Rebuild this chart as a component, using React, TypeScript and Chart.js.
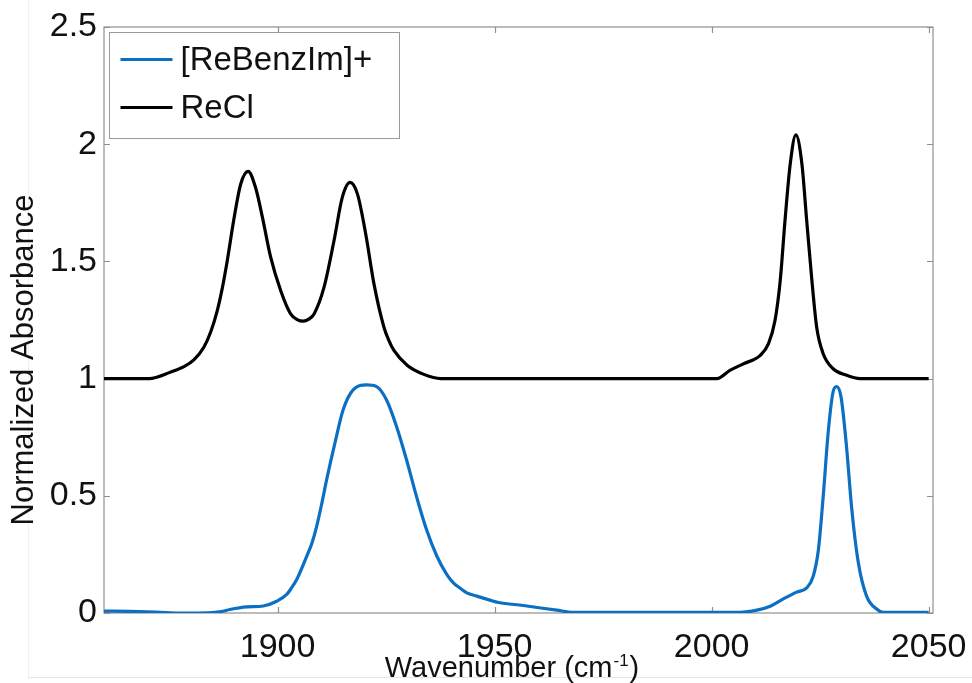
import React, { useEffect, useRef } from "react";
import { Chart, registerables } from "chart.js";

Chart.register(...registerables);

// ReCl spectrum (offset by +1)
const reclWavenumber = [
  1860, 1870.4, 1875.4, 1878.4, 1880.7, 1883, 1884.6, 1886.1, 1887.3, 1888.4, 1890,
  1891.5, 1893.2, 1894.9, 1896.5, 1898.4, 1900.7, 1903, 1904.5, 1905.9, 1907.2, 1908.4,
  1910.7, 1913, 1914.9, 1916.7, 1918.4, 1920.3, 1922.2, 1924.5, 1925.7, 1926.8, 1929.9,
  1933.7, 1937.6, 2001.2, 2004.2, 2007.3, 2011.2, 2013.1, 2014.6, 2015.8, 2016.9,
  2018.1, 2019.4, 2020.8, 2021.9, 2023.1, 2024.2, 2025.7, 2028, 2031.1, 2034.2, 2050,
];
const reclAbsorbance = [
  1.0, 1.0, 1.028, 1.051, 1.08, 1.134, 1.2, 1.29, 1.39, 1.503, 1.688,
  1.83, 1.884, 1.816, 1.688, 1.518, 1.376, 1.276, 1.252, 1.245, 1.254, 1.276,
  1.39, 1.589, 1.773, 1.837, 1.787, 1.617, 1.404, 1.219, 1.16, 1.12, 1.056,
  1.018, 1.0, 1.0, 1.035, 1.063, 1.099, 1.149, 1.248, 1.418, 1.674,
  1.915, 2.04, 1.915, 1.674, 1.418, 1.219, 1.106, 1.042, 1.014, 1.0, 1.0,
];

// [ReBenzIm]+ spectrum
const benzWavenumber = [
  1860, 1866, 1872, 1878, 1884, 1887, 1889, 1892.9, 1896.7, 1899.8, 1902.1, 1903.2,
  1904.4, 1906.7, 1907.9, 1909, 1910.2, 1911.3, 1913.2, 1915.1, 1917.4, 1920.5, 1922.8,
  1925.1, 1927.4, 1929.7, 1932, 1934.3, 1936.7, 1939, 1940.5, 1942, 1943.6, 1945.9,
  1948.9, 1950.9, 1956.6, 1964.3, 1968.1, 2006.5, 2010.4, 2013.5, 2016.5, 2019.6,
  2021.9, 2023.4, 2024.6, 2025.7, 2026.9, 2028, 2028.8, 2029.8, 2031, 2032.3, 2033.8,
  2035.7, 2038.4, 2039.5, 2050,
];
const benzAbsorbance = [
  0.008, 0.007, 0.004, 0.0, 0.001, 0.006, 0.015, 0.026, 0.03, 0.05, 0.079, 0.107,
  0.143, 0.242, 0.298, 0.37, 0.469, 0.569, 0.725, 0.867, 0.952, 0.973, 0.966,
  0.909, 0.796, 0.654, 0.497, 0.356, 0.242, 0.164, 0.129, 0.107, 0.086, 0.072,
  0.055, 0.045, 0.032, 0.012, 0.003, 0.003, 0.012, 0.029, 0.06, 0.089,
  0.107, 0.157, 0.27, 0.497, 0.78, 0.945, 0.966, 0.923, 0.725, 0.441, 0.214,
  0.072, 0.012, 0.003, 0.003,
];

const seriesLabels = ["[ReBenzIm]+", "ReCl"];
const seriesColors = ["#0b6fc3", "#000000"];

const xTicks = [1900, 1950, 2000, 2050];
const yTicks = [0, 0.5, 1, 1.5, 2, 2.5];

const xTitle = "Wavenumber (cm";
const xTitleSup = "-1";
const yTitle = "Normalized Absorbance";

const FONT = "'Liberation Sans', Helvetica, Arial, sans-serif";

const framePlugin = {
  id: "frameAndLegend",
  beforeDatasetsDraw(chart: any) {
    const { ctx, chartArea: a, scales } = chart;
    ctx.save();
    ctx.strokeStyle = "#8f8f8f";
    ctx.lineWidth = 1.2;
    ctx.strokeRect(a.left, a.top, a.right - a.left, a.bottom - a.top);
    const tl = 6;
    ctx.beginPath();
    for (const v of xTicks) {
      const x = Math.round(scales.x.getPixelForValue(v)) + 0.5;
      ctx.moveTo(x, a.bottom);
      ctx.lineTo(x, a.bottom - tl);
      ctx.moveTo(x, a.top);
      ctx.lineTo(x, a.top + tl);
    }
    for (const v of yTicks) {
      const y = Math.round(scales.y.getPixelForValue(v)) + 0.5;
      ctx.moveTo(a.left, y);
      ctx.lineTo(a.left + tl, y);
      ctx.moveTo(a.right, y);
      ctx.lineTo(a.right - tl, y);
    }
    ctx.stroke();
    ctx.restore();
  },
  afterDraw(chart: any) {
    const { ctx, chartArea: a } = chart;
    ctx.save();

    // legend box in the upper-left corner of the axes
    const bx = a.left + 5.5;
    const by = a.top + 5.5;
    const bw = 290;
    const bh = 106;
    ctx.fillStyle = "#ffffff";
    ctx.fillRect(bx, by, bw, bh);
    ctx.strokeStyle = "#9a9a9a";
    ctx.lineWidth = 1;
    ctx.strokeRect(bx, by, bw, bh);
    const rows = [by + 27, by + 75];
    chart.data.datasets.forEach((ds: any, i: number) => {
      ctx.strokeStyle = ds.borderColor;
      ctx.lineWidth = 3;
      ctx.beginPath();
      ctx.moveTo(bx + 11, rows[i]);
      ctx.lineTo(bx + 63, rows[i]);
      ctx.stroke();
      ctx.fillStyle = "#111111";
      ctx.font = `33px ${FONT}`;
      ctx.textBaseline = "middle";
      ctx.textAlign = "left";
      ctx.fillText(ds.label, bx + 71, rows[i] + 1);
    });

    // y axis title
    ctx.fillStyle = "#111111";
    ctx.save();
    ctx.translate(24, 360);
    ctx.rotate(-Math.PI / 2);
    ctx.font = `31px ${FONT}`;
    ctx.textAlign = "center";
    ctx.textBaseline = "middle";
    ctx.fillText(yTitle, 0, 0);
    ctx.restore();

    // x axis title with superscript
    const mainFont = `29px ${FONT}`;
    const supFont = `17px ${FONT}`;
    ctx.textBaseline = "alphabetic";
    ctx.textAlign = "left";
    ctx.font = mainFont;
    const w1 = ctx.measureText(xTitle).width;
    const w3 = ctx.measureText(")").width;
    ctx.font = supFont;
    const w2 = ctx.measureText(xTitleSup).width;
    const total = w1 + w2 + w3 + 2;
    let x = 512 - total / 2;
    const base = 677;
    ctx.font = mainFont;
    ctx.fillText(xTitle, x, base);
    x += w1 + 1;
    ctx.font = supFont;
    ctx.fillText(xTitleSup, x, base - 11);
    x += w2 + 1;
    ctx.font = mainFont;
    ctx.fillText(")", x, base);

    ctx.restore();
  },
};

export default function App() {
  const canvasRef = useRef<HTMLCanvasElement | null>(null);

  useEffect(() => {
    if (!canvasRef.current) return;
    const toPoints = (xs: number[], ys: number[]) =>
      xs.map((x, i) => ({ x, y: ys[i] }));

    const chart = new Chart(canvasRef.current, {
      type: "line",
      data: {
        datasets: [
          {
            label: seriesLabels[0],
            data: toPoints(benzWavenumber, benzAbsorbance),
            borderColor: seriesColors[0],
            borderWidth: 3.2,
            pointRadius: 0,
            cubicInterpolationMode: "monotone",
            fill: false,
          },
          {
            label: seriesLabels[1],
            data: toPoints(reclWavenumber, reclAbsorbance),
            borderColor: seriesColors[1],
            borderWidth: 3.2,
            pointRadius: 0,
            cubicInterpolationMode: "monotone",
            fill: false,
          },
        ],
      },
      options: {
        animation: false,
        responsive: true,
        maintainAspectRatio: false,
        layout: { padding: { left: 0, right: 39, top: 27, bottom: 0 } },
        plugins: {
          legend: { display: false },
          tooltip: { enabled: false },
        },
        scales: {
          x: {
            type: "linear",
            min: 1860,
            max: 2051,
            grid: { display: false, drawTicks: false },
            border: { display: false },
            afterBuildTicks: (s: any) => {
              s.ticks = xTicks.map((v) => ({ value: v }));
            },
            afterFit: (s: any) => {
              s.height = 70;
              s.paddingLeft = 0;
              s.paddingRight = 0;
            },
            ticks: {
              padding: 14,
              maxRotation: 0,
              color: "#111111",
              font: { size: 34, family: FONT },
              callback: (v: any) => String(v),
            },
          },
          y: {
            type: "linear",
            min: 0,
            max: 2.5,
            grid: { display: false, drawTicks: false },
            border: { display: false },
            afterBuildTicks: (s: any) => {
              s.ticks = yTicks.map((v) => ({ value: v }));
            },
            afterFit: (s: any) => {
              s.width = 104;
              s.paddingTop = 0;
              s.paddingBottom = 0;
            },
            ticks: {
              padding: 7,
              color: "#111111",
              font: { size: 34, family: FONT },
              callback: (v: any) => String(v),
            },
          },
        },
      },
      plugins: [framePlugin],
    });

    return () => chart.destroy();
  }, []);

  return (
    <div
      style={{
        position: "fixed",
        left: 0,
        top: 0,
        width: 972,
        height: 683,
        background: "#ffffff",
      }}
    >
      <div
        style={{
          position: "absolute",
          left: 28,
          top: 0,
          width: 1,
          height: 677,
          background: "#f1f1f1",
        }}
      />
      <div
        style={{
          position: "absolute",
          left: 28,
          top: 677,
          width: 944,
          height: 1,
          background: "#e6e6e6",
        }}
      />
      <canvas ref={canvasRef} style={{ position: "absolute", left: 0, top: 0 }} />
    </div>
  );
}
